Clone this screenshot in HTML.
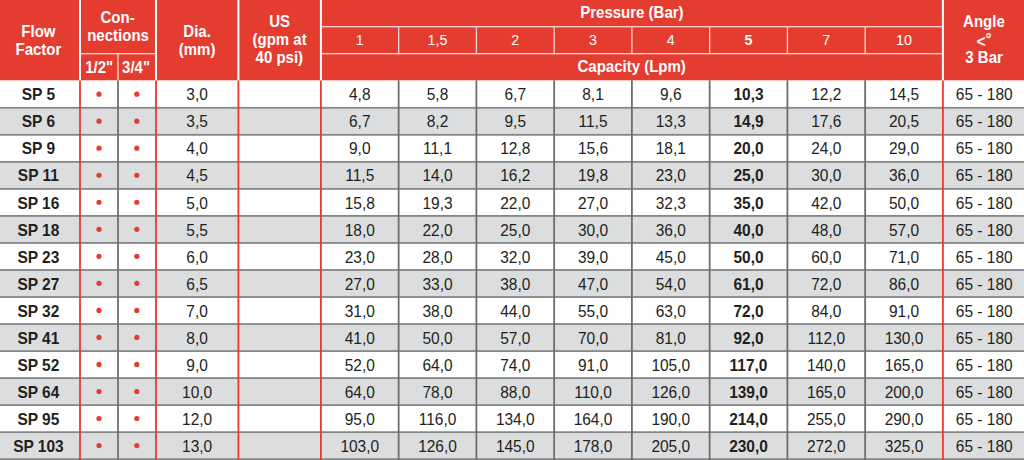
<!DOCTYPE html>
<html><head><meta charset="utf-8"><style>
html,body{margin:0;padding:0;width:1024px;height:460px;overflow:hidden;background:#fff}
svg{display:block;font-family:"Liberation Sans",sans-serif}
text{text-anchor:middle}
</style></head><body>
<svg width="1024" height="460" viewBox="0 0 1024 460">
<rect x="0" y="0" width="1024" height="80.3" fill="#e53c30"/>
<rect x="0" y="107.8" width="1024" height="27.03" fill="#dcdddf"/>
<rect x="0" y="161.86" width="1024" height="27.03" fill="#dcdddf"/>
<rect x="0" y="215.92" width="1024" height="27.03" fill="#dcdddf"/>
<rect x="0" y="269.98" width="1024" height="27.03" fill="#dcdddf"/>
<rect x="0" y="324.04" width="1024" height="27.03" fill="#dcdddf"/>
<rect x="0" y="378.1" width="1024" height="27.03" fill="#dcdddf"/>
<rect x="0" y="432.16" width="1024" height="27.03" fill="#dcdddf"/>
<rect x="0" y="106.9" width="1024" height="1.8" fill="#868686"/>
<rect x="0" y="133.93" width="1024" height="1.8" fill="#868686"/>
<rect x="0" y="160.96" width="1024" height="1.8" fill="#868686"/>
<rect x="0" y="187.99" width="1024" height="1.8" fill="#868686"/>
<rect x="0" y="215.02" width="1024" height="1.8" fill="#868686"/>
<rect x="0" y="242.05" width="1024" height="1.8" fill="#868686"/>
<rect x="0" y="269.08" width="1024" height="1.8" fill="#868686"/>
<rect x="0" y="296.11" width="1024" height="1.8" fill="#868686"/>
<rect x="0" y="323.14" width="1024" height="1.8" fill="#868686"/>
<rect x="0" y="350.17" width="1024" height="1.8" fill="#868686"/>
<rect x="0" y="377.2" width="1024" height="1.8" fill="#868686"/>
<rect x="0" y="404.23" width="1024" height="1.8" fill="#868686"/>
<rect x="0" y="431.26" width="1024" height="1.8" fill="#868686"/>
<rect x="0" y="458.29" width="1024" height="1.8" fill="#868686"/>
<rect x="117.1" y="80.3" width="1.8" height="379.7" fill="#707070"/>
<rect x="397.75" y="80.3" width="1.8" height="379.7" fill="#6e6e6e"/>
<rect x="475.5" y="80.3" width="1.8" height="379.7" fill="#6e6e6e"/>
<rect x="553.25" y="80.3" width="1.8" height="379.7" fill="#6e6e6e"/>
<rect x="631" y="80.3" width="1.8" height="379.7" fill="#6e6e6e"/>
<rect x="708.75" y="80.3" width="1.8" height="379.7" fill="#6e6e6e"/>
<rect x="786.5" y="80.3" width="1.8" height="379.7" fill="#6e6e6e"/>
<rect x="864.25" y="80.3" width="1.8" height="379.7" fill="#6e6e6e"/>
<rect x="79.1" y="80.3" width="1.8" height="379.7" fill="#e53c30"/>
<rect x="155.1" y="80.3" width="1.8" height="379.7" fill="#e53c30"/>
<rect x="237.5" y="80.3" width="1.8" height="379.7" fill="#e53c30"/>
<rect x="320" y="80.3" width="1.8" height="379.7" fill="#e53c30"/>
<rect x="942" y="80.3" width="1.8" height="379.7" fill="#e53c30"/>
<rect x="79" y="0" width="2" height="80.3" fill="#fff"/>
<rect x="155" y="0" width="2" height="80.3" fill="#fff"/>
<rect x="237.4" y="0" width="2" height="80.3" fill="#fff"/>
<rect x="319.9" y="0" width="2" height="80.3" fill="#fff"/>
<rect x="941.9" y="0" width="2" height="80.3" fill="#fff"/>
<g fill="#fff" fill-opacity="0.8">
<rect x="117.35" y="53.7" width="1.3" height="26.6"/>
<rect x="81" y="53.05" width="74" height="1.3"/>
<rect x="321.9" y="26.05" width="620" height="1.3"/>
<rect x="321.9" y="53.05" width="620" height="1.3"/>
<rect x="398" y="27.35" width="1.3" height="25.7"/>
<rect x="475.75" y="27.35" width="1.3" height="25.7"/>
<rect x="553.5" y="27.35" width="1.3" height="25.7"/>
<rect x="631.25" y="27.35" width="1.3" height="25.7"/>
<rect x="709" y="27.35" width="1.3" height="25.7"/>
<rect x="786.75" y="27.35" width="1.3" height="25.7"/>
<rect x="864.5" y="27.35" width="1.3" height="25.7"/>
</g>
<circle cx="99.0" cy="94.15" r="2.6" fill="#e53c30"/>
<circle cx="136.8" cy="94.15" r="2.6" fill="#e53c30"/>
<circle cx="99.0" cy="121.18" r="2.6" fill="#e53c30"/>
<circle cx="136.8" cy="121.18" r="2.6" fill="#e53c30"/>
<circle cx="99.0" cy="148.21" r="2.6" fill="#e53c30"/>
<circle cx="136.8" cy="148.21" r="2.6" fill="#e53c30"/>
<circle cx="99.0" cy="175.24" r="2.6" fill="#e53c30"/>
<circle cx="136.8" cy="175.24" r="2.6" fill="#e53c30"/>
<circle cx="99.0" cy="202.27" r="2.6" fill="#e53c30"/>
<circle cx="136.8" cy="202.27" r="2.6" fill="#e53c30"/>
<circle cx="99.0" cy="229.3" r="2.6" fill="#e53c30"/>
<circle cx="136.8" cy="229.3" r="2.6" fill="#e53c30"/>
<circle cx="99.0" cy="256.33" r="2.6" fill="#e53c30"/>
<circle cx="136.8" cy="256.33" r="2.6" fill="#e53c30"/>
<circle cx="99.0" cy="283.36" r="2.6" fill="#e53c30"/>
<circle cx="136.8" cy="283.36" r="2.6" fill="#e53c30"/>
<circle cx="99.0" cy="310.39" r="2.6" fill="#e53c30"/>
<circle cx="136.8" cy="310.39" r="2.6" fill="#e53c30"/>
<circle cx="99.0" cy="337.42" r="2.6" fill="#e53c30"/>
<circle cx="136.8" cy="337.42" r="2.6" fill="#e53c30"/>
<circle cx="99.0" cy="364.45" r="2.6" fill="#e53c30"/>
<circle cx="136.8" cy="364.45" r="2.6" fill="#e53c30"/>
<circle cx="99.0" cy="391.48" r="2.6" fill="#e53c30"/>
<circle cx="136.8" cy="391.48" r="2.6" fill="#e53c30"/>
<circle cx="99.0" cy="418.51" r="2.6" fill="#e53c30"/>
<circle cx="136.8" cy="418.51" r="2.6" fill="#e53c30"/>
<circle cx="99.0" cy="445.54" r="2.6" fill="#e53c30"/>
<circle cx="136.8" cy="445.54" r="2.6" fill="#e53c30"/>
<text transform="translate(38.4,36.5) scale(1,1.08)" font-size="15" font-weight="bold" fill="#fff">Flow</text>
<text transform="translate(38.4,54.7) scale(1,1.08)" font-size="15" font-weight="bold" fill="#fff">Factor</text>
<text transform="translate(117.6,22.8) scale(1,1.08)" font-size="15" font-weight="bold" fill="#fff">Con-</text>
<text transform="translate(118.05,41.1) scale(1,1.08)" font-size="15" font-weight="bold" fill="#fff">nections</text>
<text transform="translate(99.15,72.6) scale(1,1.08)" font-size="15" font-weight="bold" fill="#fff">1/2"</text>
<text transform="translate(136.05,72.6) scale(1,1.08)" font-size="15" font-weight="bold" fill="#fff">3/4"</text>
<text transform="translate(197.1,36.6) scale(1,1.08)" font-size="15" font-weight="bold" fill="#fff">Dia.</text>
<text transform="translate(197.05,54.5) scale(1,1.08)" font-size="15" font-weight="bold" fill="#fff">(mm)</text>
<text transform="translate(279.6,26.9) scale(1,1.08)" font-size="15" font-weight="bold" fill="#fff">US</text>
<text transform="translate(279.6,44.9) scale(1,1.08)" font-size="15" font-weight="bold" fill="#fff">(gpm at</text>
<text transform="translate(279.3,62.8) scale(1,1.08)" font-size="15" font-weight="bold" fill="#fff">40 psi)</text>
<text transform="translate(631.9,18.3) scale(1,1.08)" font-size="15" font-weight="bold" fill="#fff">Pressure (Bar)</text>
<text transform="translate(631.7,72.2) scale(1,1.08)" font-size="15" font-weight="bold" fill="#fff">Capacity (Lpm)</text>
<text transform="translate(359.77,45.3) scale(1,1.08)" font-size="14.3" fill="#fff">1</text>
<text transform="translate(437.52,45.3) scale(1,1.08)" font-size="14.3" fill="#fff">1,5</text>
<text transform="translate(515.27,45.3) scale(1,1.08)" font-size="14.3" fill="#fff">2</text>
<text transform="translate(593.02,45.3) scale(1,1.08)" font-size="14.3" fill="#fff">3</text>
<text transform="translate(670.77,45.3) scale(1,1.08)" font-size="14.3" fill="#fff">4</text>
<text transform="translate(748.52,45.3) scale(1,1.08)" font-size="14.3" font-weight="bold" fill="#fff">5</text>
<text transform="translate(826.27,45.3) scale(1,1.08)" font-size="14.3" fill="#fff">7</text>
<text transform="translate(904.02,45.3) scale(1,1.08)" font-size="14.3" fill="#fff">10</text>
<text transform="translate(983.9,26.9) scale(1,1.08)" font-size="15" font-weight="bold" fill="#fff">Angle</text>
<text transform="translate(981.1,46.5) scale(1,1.08)" font-size="15" font-weight="bold" fill="#fff">&lt;</text>
<text transform="translate(988.6,45.1) scale(1,1.08)" font-size="15" font-weight="bold" fill="#fff">&#176;</text>
<text transform="translate(984.05,63.1) scale(1,1.08)" font-size="15" font-weight="bold" fill="#fff">3 Bar</text>
<g fill="#231f20" font-size="15.5">
<text transform="translate(38.4,100.4) scale(1,1.05)" font-weight="bold">SP 5</text>
<text transform="translate(197.1,100.4) scale(1,1.05)">3,0</text>
<text transform="translate(359.77,100.4) scale(1,1.05)">4,8</text>
<text transform="translate(437.52,100.4) scale(1,1.05)">5,8</text>
<text transform="translate(515.27,100.4) scale(1,1.05)">6,7</text>
<text transform="translate(593.02,100.4) scale(1,1.05)">8,1</text>
<text transform="translate(670.77,100.4) scale(1,1.05)">9,6</text>
<text transform="translate(748.52,100.4) scale(1,1.05)" font-weight="bold">10,3</text>
<text transform="translate(826.27,100.4) scale(1,1.05)">12,2</text>
<text transform="translate(904.02,100.4) scale(1,1.05)">14,5</text>
<text transform="translate(984.2,100.4) scale(1,1.05)">65 - 180</text>
<text transform="translate(38.4,127.43) scale(1,1.05)" font-weight="bold">SP 6</text>
<text transform="translate(197.1,127.43) scale(1,1.05)">3,5</text>
<text transform="translate(359.77,127.43) scale(1,1.05)">6,7</text>
<text transform="translate(437.52,127.43) scale(1,1.05)">8,2</text>
<text transform="translate(515.27,127.43) scale(1,1.05)">9,5</text>
<text transform="translate(593.02,127.43) scale(1,1.05)">11,5</text>
<text transform="translate(670.77,127.43) scale(1,1.05)">13,3</text>
<text transform="translate(748.52,127.43) scale(1,1.05)" font-weight="bold">14,9</text>
<text transform="translate(826.27,127.43) scale(1,1.05)">17,6</text>
<text transform="translate(904.02,127.43) scale(1,1.05)">20,5</text>
<text transform="translate(984.2,127.43) scale(1,1.05)">65 - 180</text>
<text transform="translate(38.4,154.46) scale(1,1.05)" font-weight="bold">SP 9</text>
<text transform="translate(197.1,154.46) scale(1,1.05)">4,0</text>
<text transform="translate(359.77,154.46) scale(1,1.05)">9,0</text>
<text transform="translate(437.52,154.46) scale(1,1.05)">11,1</text>
<text transform="translate(515.27,154.46) scale(1,1.05)">12,8</text>
<text transform="translate(593.02,154.46) scale(1,1.05)">15,6</text>
<text transform="translate(670.77,154.46) scale(1,1.05)">18,1</text>
<text transform="translate(748.52,154.46) scale(1,1.05)" font-weight="bold">20,0</text>
<text transform="translate(826.27,154.46) scale(1,1.05)">24,0</text>
<text transform="translate(904.02,154.46) scale(1,1.05)">29,0</text>
<text transform="translate(984.2,154.46) scale(1,1.05)">65 - 180</text>
<text transform="translate(38.4,181.49) scale(1,1.05)" font-weight="bold">SP 11</text>
<text transform="translate(197.1,181.49) scale(1,1.05)">4,5</text>
<text transform="translate(359.77,181.49) scale(1,1.05)">11,5</text>
<text transform="translate(437.52,181.49) scale(1,1.05)">14,0</text>
<text transform="translate(515.27,181.49) scale(1,1.05)">16,2</text>
<text transform="translate(593.02,181.49) scale(1,1.05)">19,8</text>
<text transform="translate(670.77,181.49) scale(1,1.05)">23,0</text>
<text transform="translate(748.52,181.49) scale(1,1.05)" font-weight="bold">25,0</text>
<text transform="translate(826.27,181.49) scale(1,1.05)">30,0</text>
<text transform="translate(904.02,181.49) scale(1,1.05)">36,0</text>
<text transform="translate(984.2,181.49) scale(1,1.05)">65 - 180</text>
<text transform="translate(38.4,208.52) scale(1,1.05)" font-weight="bold">SP 16</text>
<text transform="translate(197.1,208.52) scale(1,1.05)">5,0</text>
<text transform="translate(359.77,208.52) scale(1,1.05)">15,8</text>
<text transform="translate(437.52,208.52) scale(1,1.05)">19,3</text>
<text transform="translate(515.27,208.52) scale(1,1.05)">22,0</text>
<text transform="translate(593.02,208.52) scale(1,1.05)">27,0</text>
<text transform="translate(670.77,208.52) scale(1,1.05)">32,3</text>
<text transform="translate(748.52,208.52) scale(1,1.05)" font-weight="bold">35,0</text>
<text transform="translate(826.27,208.52) scale(1,1.05)">42,0</text>
<text transform="translate(904.02,208.52) scale(1,1.05)">50,0</text>
<text transform="translate(984.2,208.52) scale(1,1.05)">65 - 180</text>
<text transform="translate(38.4,235.55) scale(1,1.05)" font-weight="bold">SP 18</text>
<text transform="translate(197.1,235.55) scale(1,1.05)">5,5</text>
<text transform="translate(359.77,235.55) scale(1,1.05)">18,0</text>
<text transform="translate(437.52,235.55) scale(1,1.05)">22,0</text>
<text transform="translate(515.27,235.55) scale(1,1.05)">25,0</text>
<text transform="translate(593.02,235.55) scale(1,1.05)">30,0</text>
<text transform="translate(670.77,235.55) scale(1,1.05)">36,0</text>
<text transform="translate(748.52,235.55) scale(1,1.05)" font-weight="bold">40,0</text>
<text transform="translate(826.27,235.55) scale(1,1.05)">48,0</text>
<text transform="translate(904.02,235.55) scale(1,1.05)">57,0</text>
<text transform="translate(984.2,235.55) scale(1,1.05)">65 - 180</text>
<text transform="translate(38.4,262.58) scale(1,1.05)" font-weight="bold">SP 23</text>
<text transform="translate(197.1,262.58) scale(1,1.05)">6,0</text>
<text transform="translate(359.77,262.58) scale(1,1.05)">23,0</text>
<text transform="translate(437.52,262.58) scale(1,1.05)">28,0</text>
<text transform="translate(515.27,262.58) scale(1,1.05)">32,0</text>
<text transform="translate(593.02,262.58) scale(1,1.05)">39,0</text>
<text transform="translate(670.77,262.58) scale(1,1.05)">45,0</text>
<text transform="translate(748.52,262.58) scale(1,1.05)" font-weight="bold">50,0</text>
<text transform="translate(826.27,262.58) scale(1,1.05)">60,0</text>
<text transform="translate(904.02,262.58) scale(1,1.05)">71,0</text>
<text transform="translate(984.2,262.58) scale(1,1.05)">65 - 180</text>
<text transform="translate(38.4,289.61) scale(1,1.05)" font-weight="bold">SP 27</text>
<text transform="translate(197.1,289.61) scale(1,1.05)">6,5</text>
<text transform="translate(359.77,289.61) scale(1,1.05)">27,0</text>
<text transform="translate(437.52,289.61) scale(1,1.05)">33,0</text>
<text transform="translate(515.27,289.61) scale(1,1.05)">38,0</text>
<text transform="translate(593.02,289.61) scale(1,1.05)">47,0</text>
<text transform="translate(670.77,289.61) scale(1,1.05)">54,0</text>
<text transform="translate(748.52,289.61) scale(1,1.05)" font-weight="bold">61,0</text>
<text transform="translate(826.27,289.61) scale(1,1.05)">72,0</text>
<text transform="translate(904.02,289.61) scale(1,1.05)">86,0</text>
<text transform="translate(984.2,289.61) scale(1,1.05)">65 - 180</text>
<text transform="translate(38.4,316.64) scale(1,1.05)" font-weight="bold">SP 32</text>
<text transform="translate(197.1,316.64) scale(1,1.05)">7,0</text>
<text transform="translate(359.77,316.64) scale(1,1.05)">31,0</text>
<text transform="translate(437.52,316.64) scale(1,1.05)">38,0</text>
<text transform="translate(515.27,316.64) scale(1,1.05)">44,0</text>
<text transform="translate(593.02,316.64) scale(1,1.05)">55,0</text>
<text transform="translate(670.77,316.64) scale(1,1.05)">63,0</text>
<text transform="translate(748.52,316.64) scale(1,1.05)" font-weight="bold">72,0</text>
<text transform="translate(826.27,316.64) scale(1,1.05)">84,0</text>
<text transform="translate(904.02,316.64) scale(1,1.05)">91,0</text>
<text transform="translate(984.2,316.64) scale(1,1.05)">65 - 180</text>
<text transform="translate(38.4,343.67) scale(1,1.05)" font-weight="bold">SP 41</text>
<text transform="translate(197.1,343.67) scale(1,1.05)">8,0</text>
<text transform="translate(359.77,343.67) scale(1,1.05)">41,0</text>
<text transform="translate(437.52,343.67) scale(1,1.05)">50,0</text>
<text transform="translate(515.27,343.67) scale(1,1.05)">57,0</text>
<text transform="translate(593.02,343.67) scale(1,1.05)">70,0</text>
<text transform="translate(670.77,343.67) scale(1,1.05)">81,0</text>
<text transform="translate(748.52,343.67) scale(1,1.05)" font-weight="bold">92,0</text>
<text transform="translate(826.27,343.67) scale(1,1.05)">112,0</text>
<text transform="translate(904.02,343.67) scale(1,1.05)">130,0</text>
<text transform="translate(984.2,343.67) scale(1,1.05)">65 - 180</text>
<text transform="translate(38.4,370.7) scale(1,1.05)" font-weight="bold">SP 52</text>
<text transform="translate(197.1,370.7) scale(1,1.05)">9,0</text>
<text transform="translate(359.77,370.7) scale(1,1.05)">52,0</text>
<text transform="translate(437.52,370.7) scale(1,1.05)">64,0</text>
<text transform="translate(515.27,370.7) scale(1,1.05)">74,0</text>
<text transform="translate(593.02,370.7) scale(1,1.05)">91,0</text>
<text transform="translate(670.77,370.7) scale(1,1.05)">105,0</text>
<text transform="translate(748.52,370.7) scale(1,1.05)" font-weight="bold">117,0</text>
<text transform="translate(826.27,370.7) scale(1,1.05)">140,0</text>
<text transform="translate(904.02,370.7) scale(1,1.05)">165,0</text>
<text transform="translate(984.2,370.7) scale(1,1.05)">65 - 180</text>
<text transform="translate(38.4,397.73) scale(1,1.05)" font-weight="bold">SP 64</text>
<text transform="translate(197.1,397.73) scale(1,1.05)">10,0</text>
<text transform="translate(359.77,397.73) scale(1,1.05)">64,0</text>
<text transform="translate(437.52,397.73) scale(1,1.05)">78,0</text>
<text transform="translate(515.27,397.73) scale(1,1.05)">88,0</text>
<text transform="translate(593.02,397.73) scale(1,1.05)">110,0</text>
<text transform="translate(670.77,397.73) scale(1,1.05)">126,0</text>
<text transform="translate(748.52,397.73) scale(1,1.05)" font-weight="bold">139,0</text>
<text transform="translate(826.27,397.73) scale(1,1.05)">165,0</text>
<text transform="translate(904.02,397.73) scale(1,1.05)">200,0</text>
<text transform="translate(984.2,397.73) scale(1,1.05)">65 - 180</text>
<text transform="translate(38.4,424.76) scale(1,1.05)" font-weight="bold">SP 95</text>
<text transform="translate(197.1,424.76) scale(1,1.05)">12,0</text>
<text transform="translate(359.77,424.76) scale(1,1.05)">95,0</text>
<text transform="translate(437.52,424.76) scale(1,1.05)">116,0</text>
<text transform="translate(515.27,424.76) scale(1,1.05)">134,0</text>
<text transform="translate(593.02,424.76) scale(1,1.05)">164,0</text>
<text transform="translate(670.77,424.76) scale(1,1.05)">190,0</text>
<text transform="translate(748.52,424.76) scale(1,1.05)" font-weight="bold">214,0</text>
<text transform="translate(826.27,424.76) scale(1,1.05)">255,0</text>
<text transform="translate(904.02,424.76) scale(1,1.05)">290,0</text>
<text transform="translate(984.2,424.76) scale(1,1.05)">65 - 180</text>
<text transform="translate(38.4,451.79) scale(1,1.05)" font-weight="bold">SP 103</text>
<text transform="translate(197.1,451.79) scale(1,1.05)">13,0</text>
<text transform="translate(359.77,451.79) scale(1,1.05)">103,0</text>
<text transform="translate(437.52,451.79) scale(1,1.05)">126,0</text>
<text transform="translate(515.27,451.79) scale(1,1.05)">145,0</text>
<text transform="translate(593.02,451.79) scale(1,1.05)">178,0</text>
<text transform="translate(670.77,451.79) scale(1,1.05)">205,0</text>
<text transform="translate(748.52,451.79) scale(1,1.05)" font-weight="bold">230,0</text>
<text transform="translate(826.27,451.79) scale(1,1.05)">272,0</text>
<text transform="translate(904.02,451.79) scale(1,1.05)">325,0</text>
<text transform="translate(984.2,451.79) scale(1,1.05)">65 - 180</text>
</g>
</svg>
</body></html>
